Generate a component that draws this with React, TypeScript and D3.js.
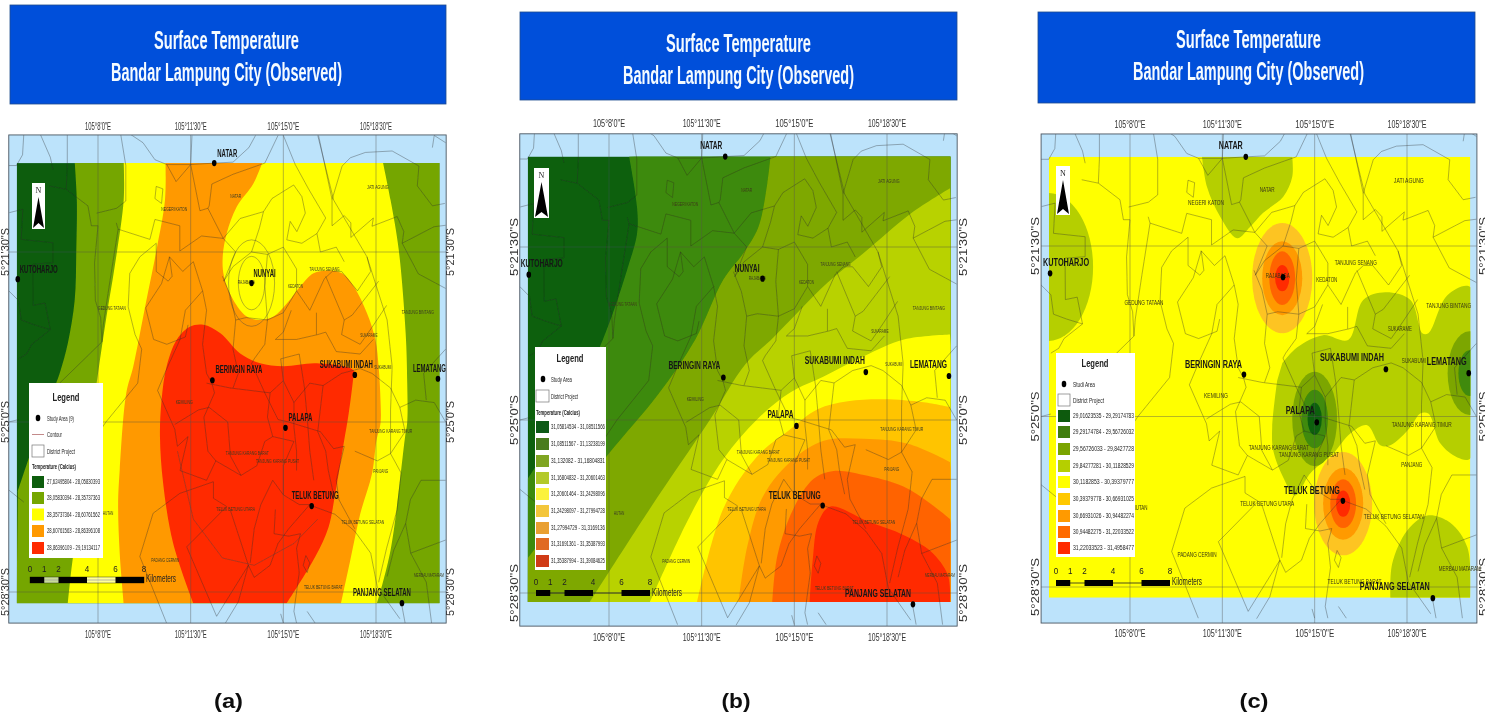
import React from "react";
import * as d3 from "d3";

type Pt = [number, number];

// All geography is in arc-minutes: [minutes east of 105°, minutes south of 5°].
const lonTicks = [8, 11.5, 15, 18.5];
const lonTickLabels = ["105°8'0\"E", "105°11'30\"E", "105°15'0\"E", "105°18'30\"E"];
const latTicks = [21.5, 25, 28.5];
const latTickLabels = ["5°21'30\"S", "5°25'0\"S", "5°28'30\"S"];
const scaleKm = [0, 1, 2, 4, 6, 8];

const cities: [string, number, number][] = [
  ["NATAR", 12.39, 19.67],
  ["KUTOHARJO", 4.97, 22.06],
  ["NUNYAI", 13.8, 22.14],
  ["BERINGIN RAYA", 12.32, 24.14],
  ["SUKABUMI INDAH", 17.7, 24.03],
  ["LEMATANG", 20.84, 24.11],
  ["PALAPA", 15.08, 25.12],
  ["TELUK BETUNG", 16.07, 26.73],
  ["PANJANG SELATAN", 19.48, 28.73],
];

const districtNames: [string, number, number][] = [
  ["NEGERI KATON", 10.88, 20.62],
  ["NATAR", 13.2, 20.35],
  ["JATI AGUNG", 18.57, 20.17],
  ["RAJABASA", 13.6, 22.12],
  ["KEDATON", 15.46, 22.2],
  ["TANJUNG SENANG", 16.56, 21.84],
  ["TANJUNG BINTANG", 20.08, 22.73],
  ["SUKARAME", 18.23, 23.2],
  ["SUKABUMI", 18.76, 23.87],
  ["GEDUNG TATAAN", 8.53, 22.66],
  ["KEMILING", 11.26, 24.58],
  ["TANJUNG KARANG TIMUR", 19.06, 25.18],
  ["TANJUNG KARANG BARAT", 13.64, 25.64],
  ["TANJUNG KARANG PUSAT", 14.78, 25.8],
  ["PANJANG", 18.68, 26.0],
  ["TELUK BETUNG UTARA", 13.2, 26.8],
  ["TELUK BETUNG SELATAN", 18.0, 27.06],
  ["HUTAN", 8.38, 26.88],
  ["PADANG CERMIN", 10.54, 27.85],
  ["TELUK BETUNG BARAT", 16.51, 28.4],
  ["MERBAU MATARAM", 20.5, 28.14],
];

const districtLines: Pt[][] = [
  [[4.63,19.72],[4.92,19.72],[5.15,19.5],[5.2,19.05],[5.8,19.05],[6.2,19.55],[6.3,19.8]],
  [[6.84,19.05],[6.84,19.72],[6.8,20.21],[7.62,20.55],[7.75,20.96],[8.0,20.96],[7.87,21.72],[7.9,22.5],[8.1,22.85],[8.15,23.35],[6.55,24.2],[6.0,24.55],[5.6,24.9]],
  [[6.17,20.14],[6.8,20.21]],
  [[8.85,19.05],[9.05,19.72],[9.05,20.45],[8.7,20.6],[7.95,20.7]],
  [[4.65,20.69],[5.16,20.62],[5.1,21.24],[6.3,21.31],[6.3,21.72],[5.54,21.75],[5.55,22.6],[6.0,22.55],[6.2,23.1],[5.5,23.4],[5.3,23.6],[5.0,23.7]],
  [[4.63,22.3],[5.0,22.5],[5.1,22.9],[5.6,23.0],[6.2,23.1]],
  [[9.15,19.05],[9.7,19.25],[10.15,19.6],[10.6,19.7],[11.5,19.7],[12.39,19.67],[13.1,19.65],[13.7,19.35],[13.95,19.1]],
  [[10.6,19.7],[10.95,20.05],[11.5,19.7],[11.55,19.1]],
  [[11.5,19.7],[11.85,20.65],[12.15,20.6],[12.73,21.22],[13.2,21.5],[12.75,22.1]],
  [[12.3,20.1],[13.1,19.9],[14.3,19.67],[14.8,19.1]],
  [[12.3,20.1],[12.2,20.55],[12.15,20.6]],
  [[10.2,20.15],[10.45,20.2],[10.4,20.5],[10.15,20.4],[10.2,20.15]],
  [[15.0,19.1],[15.45,19.7],[15.95,20.2],[16.6,20.8],[16.27,21.12]],
  [[8.69,20.9],[8.76,21.03],[9.96,21.24],[10.15,20.83],[11.09,20.96],[11.09,21.48],[11.91,21.17],[12.73,21.22]],
  [[8.76,21.03],[8.45,22.1],[8.2,23.0],[8.15,23.35]],
  [[9.14,22.63],[9.2,21.94],[9.58,21.6],[10.2,21.32]],
  [[9.14,22.63],[9.4,23.2],[9.65,23.5],[9.5,24.2],[8.9,24.6],[8.3,25.0],[7.8,25.4]],
  [[10.2,21.32],[10.2,21.9],[10.65,22.1],[10.8,22.0],[10.7,21.6],[11.2,21.9],[11.6,21.7],[11.95,22.3],[12.1,22.7]],
  [[10.7,21.6],[10.4,22.15],[9.8,22.65],[10.1,23.3],[10.6,23.4],[11.3,23.25],[11.4,23.0]],
  [[11.95,22.3],[11.3,22.7],[11.1,23.3],[10.6,23.9],[10.25,24.35],[10.9,25.15],[11.0,25.5]],
  [[12.1,22.7],[11.95,23.4],[12.1,24.0],[12.3,24.2],[12.4,24.4],[12.0,24.9],[12.15,25.6],[12.45,25.8]],
  [[12.7,22.0],[13.0,22.4],[13.2,22.9],[13.1,23.5],[13.3,24.0],[13.1,24.3]],
  [[12.75,22.1],[13.1,21.8],[13.8,21.5],[14.4,21.55],[15.0,21.4],[15.5,21.85],[15.5,22.3],[15.0,22.75],[14.4,22.9],[13.6,22.85],[13.2,22.9]],
  [[13.8,21.5],[14.1,21.0],[14.25,20.67]],
  [[12.73,21.22],[13.37,20.81],[14.25,20.67],[14.57,20.4],[15.39,20.12],[15.7,20.36],[15.83,20.7],[15.51,21.08],[15.26,20.87],[15.13,21.25],[15.7,21.32],[16.27,21.12],[16.4,21.5],[17.0,21.4],[17.3,21.7]],
  [[14.4,21.55],[14.3,22.2],[14.4,22.9],[14.3,23.4],[13.9,23.7],[13.8,23.8],[14.3,24.4],[14.8,24.95],[15.2,25.0],[15.8,25.1],[16.4,25.2],[16.9,25.55],[17.3,25.5]],
  [[16.33,19.1],[16.84,20.42],[16.84,20.96],[17.3,20.75],[17.55,20.9],[17.55,21.2],[18.4,20.8],[18.35,20.97],[19.3,20.77],[19.55,21.08],[19.49,21.32],[20.69,20.98],[21.13,20.95]],
  [[16.84,20.42],[17.22,19.73],[17.53,19.56],[18.1,19.45],[19.11,19.42],[20.12,19.73],[20.06,20.14],[20.63,20.55],[21.1,20.5]],
  [[20.63,19.35],[20.7,19.1],[21.13,19.25]],
  [[19.49,21.32],[20.1,21.95],[21.13,22.25]],
  [[16.3,19.1],[16.9,20.43],[18.16,21.6],[18.92,22.9],[19.11,23.86],[19.05,24.75],[19.05,25.65]],
  [[15.5,22.3],[16.0,22.7],[16.55,22.05],[16.85,21.9],[17.2,21.9],[17.8,22.3],[18.3,21.9],[18.16,21.6]],
  [[16.6,22.0],[17.3,22.9],[17.6,22.8],[18.6,22.1]],
  [[17.3,22.9],[17.2,23.2],[17.9,23.4],[18.35,23.05],[18.9,22.6]],
  [[15.3,22.7],[15.0,23.15],[14.7,23.3],[15.5,23.3],[16.3,23.2],[16.6,23.15],[17.0,23.55],[17.9,23.6],[18.4,23.3]],
  [[16.25,22.75],[16.25,23.2]],
  [[12.1,24.2],[13.0,24.3],[14.5,24.4],[15.0,24.15],[15.4,24.6],[16.0,24.2],[16.5,24.25],[17.2,24.0],[17.9,23.9],[18.35,24.0],[19.05,24.3],[19.4,24.7],[20.0,24.55],[20.7,24.6],[21.13,25.0]],
  [[15.4,24.6],[15.4,25.1],[15.5,25.6],[15.5,26.0]],
  [[15.8,24.3],[15.9,24.9],[16.0,25.6],[16.15,26.2]],
  [[16.5,24.25],[16.3,25.2],[16.6,25.6],[16.7,26.0],[16.9,26.5]],
  [[14.5,24.4],[14.4,24.9],[14.6,25.3],[15.4,25.4],[15.0,25.9],[15.0,26.5]],
  [[15.0,24.15],[14.9,23.7],[15.6,23.6],[15.8,24.3]],
  [[10.9,25.05],[11.8,24.75],[12.2,24.7],[12.9,25.0],[13.0,25.7],[13.4,26.1]],
  [[11.1,26.0],[12.1,26.2],[12.45,25.8],[13.4,26.1],[14.0,25.9],[14.3,25.4],[14.6,25.3]],
  [[11.1,26.0],[11.4,25.3],[11.0,25.5]],
  [[12.36,26.23],[11.09,26.47],[10.08,26.88],[9.58,27.77],[10.59,29.14]],
  [[12.36,26.23],[12.36,26.57],[12.86,26.74],[11.35,27.57],[12.48,29.0],[13.68,27.95],[12.99,26.8]],
  [[13.68,27.95],[13.3,28.7],[12.8,29.15]],
  [[13.68,27.95],[13.9,28.2],[14.5,27.95],[14.8,27.5],[15.2,27.2],[16.0,26.7],[16.2,26.75],[16.95,26.9],[17.7,27.25],[18.3,27.7],[18.55,28.4],[19.4,29.05]],
  [[14.15,26.7],[13.9,27.2],[13.75,27.9]],
  [[14.15,26.7],[14.6,26.2],[15.0,26.5],[15.6,26.7],[16.0,26.7]],
  [[14.7,26.8],[14.65,27.3],[15.2,27.35],[15.65,27.3],[15.5,27.6],[15.6,28.1],[15.4,28.9],[15.5,29.14]],
  [[15.85,27.75],[16.0,27.9],[15.9,28.1],[15.75,27.95],[15.85,27.75]],
  [[17.3,25.5],[17.0,26.2],[17.1,26.6],[17.7,27.2]],
  [[17.7,25.6],[18.55,25.8],[19.05,25.65],[19.45,26.05],[19.3,26.8],[18.9,27.6],[18.6,28.3]],
  [[18.92,28.18],[19.17,27.64],[19.62,27.09],[19.81,27.7],[21.13,27.43]],
  [[19.62,27.09],[19.8,26.6],[20.2,26.2],[21.13,26.2]],
  [[19.81,27.7],[20.4,28.3],[20.6,29.14]],
  [[19.45,28.7],[19.6,29.14]],
  [[19.4,24.7],[19.6,25.2],[19.05,25.65]],
  [[20.4,24.55],[20.3,24.0],[21.13,23.5]],
  [[4.63,26.4],[5.2,26.65]],
  [[4.63,25.0],[5.0,24.95]],
  [[14.9,28.95],[15.0,29.14]],
  [[15.9,28.9],[16.2,29.14]],
];

// Panel (a) band boundaries
const aGreenEdge: Pt[] = [[7.12,19.65],[7.2,20.43],[7.18,21.46],[7.12,22.49],[6.86,23.38],[6.55,24.0],[5.92,24.9],[4.97,26.43]];
const aYellowEdge: Pt[] = [[8.97,19.65],[8.97,20.43],[8.63,21.8],[8.32,22.83],[8,24],[7.7,25.2],[7.4,26.6],[7.03,27.88],[6.86,28.73]];
const aOrangeEdge: Pt[] = [[10.55,19.65],[10.53,20.43],[10.21,21.46],[9.83,22.49],[9.33,23.86],[9.07,24.4],[8.82,25.99],[8.76,26.7],[8.82,27.7],[8.97,28.73]];
const aOrangeRight: Pt[] = [[14.21,19.65],[13.87,20.09],[13.24,20.57],[12.86,21.12],[12.71,21.6],[12.76,22.01],[13.11,22.49],[13.62,22.83],[14.12,22.9],[14.63,22.83],[15.13,22.56],[15.64,22.21],[16.14,21.94],[16.65,21.88],[17.22,21.94],[17.66,22.21],[18.16,22.76],[18.48,23.31],[18.6,23.86],[18.67,24.55],[18.67,25.03],[18.52,25.37],[18.35,26.06],[17.91,26.88],[17.53,27.84],[17.18,28.73]];
const aRedEdge: Pt[] = [[11.6,28.73],[10.84,27.5],[10.46,26.26],[10.34,25.3],[10.4,24.55],[10.59,23.86],[10.97,23.31],[11.47,23.04],[11.98,23.0],[12.61,23.17],[13.37,23.59],[14.12,23.79],[15.0,23.85],[16.27,23.79],[17.66,23.94],[17.63,24.14],[17.47,24.82],[17.28,25.44],[16.96,26.47],[16.71,27.16],[16.21,27.77],[15.13,28.73]];
const aGreenRight: Pt[] = [[18.76,19.65],[19.05,20.43],[19.36,21.46],[19.62,23.17],[19.68,24.2],[19.68,25],[19.6,25.3],[19.05,27.64],[18.54,28.73]];
const aBandColors = ["#0b5d0c", "#75a600", "#ffff00", "#ff9900", "#ff2a00"];
const aContourLons = [0.87, 0.5];
const aContourLats = [0.89, 0.55];
const aContourArc: Pt[] = [[11.0,25.6],[11.6,27.0],[12.7,27.8],[13.9,27.95],[15.4,27.5],[16.3,27.0]];

// Panel (b) band boundaries
const bEdges: Pt[][] = [
  [[8.76,19.67],[9.06,20.7],[9.06,21.22],[8.72,21.9],[7.77,23.37],[6.33,24.98],[4.93,26.19]],
  [[14.1,19.67],[13.98,20.21],[13.64,21.1],[13.08,21.62],[12.32,22.16],[11.26,23.37],[9.86,24.48],[7.92,25.73],[4.93,27.8]],
  [[20.88,20.31],[19.4,20.82],[17.62,21.62],[16.26,22.22],[14.21,23.33],[13.15,23.87],[11.83,24.98],[9.55,26.79],[7.28,28.68]],
  [[20.88,23.27],[19.14,23.37],[17.62,23.71],[16.11,24.12],[14.86,24.44],[13.61,24.98],[12.32,25.79],[11.07,26.93],[9.55,28.68]],
  [[20.88,24.74],[19.89,24.64],[18.38,24.58],[17.02,24.62],[15.88,24.78],[14.86,25.18],[13.61,25.73],[12.32,26.79],[11.33,28.68]],
  [[20.88,25.85],[19.29,25.48],[17.62,25.38],[16.11,25.42],[14.97,25.79],[13.83,26.53],[13.23,27.54],[12.89,28.68]],
  [[20.88,27.0],[19.29,26.39],[17.77,26.13],[16.48,26.03],[15.73,26.19],[14.97,26.79],[14.36,27.74],[14.17,28.68]],
  [[20.88,28.68],[20.8,28.14],[20.16,27.66],[19.14,27.33],[17.77,27.05],[16.37,26.75],[15.92,27.05],[15.69,27.86],[15.58,28.68]],
];
const bBandColors = ["#0b600c", "#3e8a08", "#7ea800", "#b8d200", "#ffff00", "#ffc400", "#ff9a00", "#ff6400", "#ff2a00"];

// Panel (c) blobs and hot/cold spots
const cNatarBlob: Pt[] = [[10.73,19.67],[10.92,20.29],[11.42,20.9],[12.06,21.34],[12.55,21.11],[13.05,20.82],[13.81,20.49],[14.15,20.08],[14.15,19.67]];
const cMerbauBlob: Pt[] = [[17.87,28.72],[17.94,28.02],[18.51,27.34],[19.27,27.03],[20.14,27.18],[20.79,27.69],[20.9,28.72]];
const cEastBlob: Pt[] = [[13.77,23.91],[14.34,23.58],[15.32,23.33],[16.27,23.43],[16.84,22.61],[17.68,22.45],[18.63,22.61],[19.08,23.29],[19.31,23.29],[20.03,22.51],[20.9,22.34],[20.9,25.86],[20.41,25.84],[19.76,25.55],[19.31,24.94],[19.0,24.94],[18.63,25.22],[17.87,25.59],[17.49,25.59],[16.99,25.18],[16.35,25.35],[15.7,25.76],[14.83,26.17],[14.26,26.62],[13.81,26.25],[13.43,25.7],[13.39,25.22],[13.58,24.26]];
const cSpots: { lon: number; lat: number; rLon: number[]; rLat: number[]; colors: string[] }[] = [
  { lon: 4.89, lat: 21.93, rLon: [1.71], rLat: [1.52], colors: ["#b5cf00"] },
  { lon: 13.77, lat: 22.16, rLon: [1.14, 0.76, 0.49, 0.27], rLat: [1.13, 0.76, 0.55, 0.27], colors: ["#fdc424", "#ff9a00", "#ff6400", "#ff2a00"] },
  { lon: 15.0, lat: 25.05, rLon: [0.85, 0.5, 0.27], rLat: [0.97, 0.6, 0.33], colors: ["#7ba600", "#3f8a08", "#0b600c"] },
  { lon: 20.87, lat: 24.11, rLon: [0.83, 0.42], rLat: [0.86, 0.47], colors: ["#7ba600", "#3f8a08"] },
  { lon: 16.08, lat: 26.79, rLon: [1.1, 0.76, 0.49, 0.27], rLat: [1.06, 0.74, 0.5, 0.27], colors: ["#fdc424", "#ff9a00", "#ff6400", "#ff2a00"] },
];
const cBaseColor = "#ffff00";
const cLimeColor = "#b5cf00";

const aLegendRanges = ["27,62495804 - 28,05830393", "28,05830394 - 28,35737363", "28,35737364 - 28,60761562", "28,60761563 - 28,86396108", "28,86396109 - 29,19134117"];
const bLegendRanges = ["31,05814534 - 31,08511566", "31,08511567 - 31,13238199", "31,132082 - 31,16804831", "31,16804832 - 31,20601463", "31,20601464 - 31,24298096", "31,24298097 - 31,27994728", "31,27994729 - 31,3169136", "31,31691361 - 31,35387993", "31,35387994 - 31,39084625"];
const cLegendRanges = ["29,01623535 - 29,29174783", "29,29174784 - 29,56726032", "29,56726033 - 29,8427728", "29,84277281 - 30,11828529", "30,1182853 - 30,39379777", "30,39379778 - 30,66931025", "30,66931026 - 30,94482274", "30,94482275 - 31,22033522", "31,22033523 - 31,4958477"];
const bLegendColors = ["#0e5a18", "#4a7c1c", "#7fa522", "#b3c92a", "#fbf23a", "#f3c63a", "#e9a030", "#e06a20", "#d03a18"];
const cLegendColors = ["#0a5a0a", "#3f7d0a", "#7aa400", "#b5cf00", "#ffff00", "#ffc800", "#ff9a00", "#ff6a00", "#ff2a00"];

const FONT = "'Liberation Sans', Arial, sans-serif";

function T(p: { x: number; y: number; w?: number; size?: number; bold?: boolean; fill?: string; anchor?: string; rotate?: boolean; children: string }) {
  const { x, y, w, size = 7, bold, fill = "#222", anchor = "start", rotate, children } = p;
  return (
    <text
      x={rotate ? 0 : x}
      y={rotate ? 0 : y}
      transform={rotate ? `translate(${x},${y}) rotate(-90)` : undefined}
      fontFamily={FONT}
      fontSize={size}
      fontWeight={bold ? 700 : 400}
      fill={fill}
      textAnchor={anchor}
      textLength={w}
      lengthAdjust={w ? "spacingAndGlyphs" : undefined}
    >
      {children}
    </text>
  );
}

interface PanelCfg {
  id: string;
  letter: string;
  letterX: number;
  header: [number, number, number, number];
  titleCx: number;
  titleY: [number, number];
  x8: number; x185: number; y215: number; y285: number;
  frameLat: [number, number];
  rasterLat: [number, number];
  tickTop: number; tickBottom: number; leftX: number; rightX: number;
  lonW: [number, number]; latW: [number, number];
  dx: number[]; dy: number[]; lw: number[];
  skip?: string;
  nameSize: number; nameK: number;
  north: [number, number, number, number];
  bar: [number, number, number, number];
  barLabelY: number; kmX: number; kmY: number; kmW: number;
  legend: {
    box: [number, number, number, number];
    titleX: number; titleY: number;
    study: string; studyX: number; studyY: number; studyW: number;
    contourY?: number;
    districtY: number; districtW: number;
    heading?: number;
    textX: number; swX: number; swW: number; centers: number[]; ranges: string[]; colors: string[]; rangeW: number;
    dotX: number;
  };
  raster: (px: (p: Pt) => [number, number], x: d3.ScaleLinear<number, number>, y: d3.ScaleLinear<number, number>) => React.ReactNode;
}

const curve = d3.line<[number, number]>().curve(d3.curveCatmullRom.alpha(0.5));

function band(parts: [number, number][][]): string {
  return parts
    .map((p, i) => {
      const s = (p.length === 1 ? `M${p[0][0]},${p[0][1]}` : curve(p)) as string;
      return i === 0 ? s : "L" + s.slice(1);
    })
    .join("") + "Z";
}

const far: Pt[] = [[22, 30]];

const panels: PanelCfg[] = [
  {
    id: "a", letter: "(a)", letterX: 228.5,
    header: [10, 5, 436, 99], titleCx: 226.5, titleY: [49, 81],
    x8: 98, x185: 376, y215: 252, y285: 592,
    frameLat: [19.09, 29.14], rasterLat: [19.67, 28.73],
    tickTop: 130, tickBottom: 638, leftX: 9, rightX: 454,
    lonW: [26, 32], latW: [48, 42],
    dx: [3, 2, 2, 3, -35, -25, 3, -20, -49], dy: [-6, -6, -6, -7, -7, -7, -7, -7, -7], lw: [20, 38, 22, 47, 53, 33, 24, 47, 58],
    nameSize: 6, nameK: 2.15,
    north: [32, 183, 13, 46],
    bar: [30, 144, 577, 6], barLabelY: 572, kmX: 146, kmY: 582, kmW: 30,
    legend: {
      box: [29, 383, 74, 175], titleX: 66, titleY: 401,
      study: "Study Area (9)", studyX: 47, studyY: 421, studyW: 27, contourY: 437,
      districtY: 454, districtW: 28, heading: 469,
      textX: 47, swX: 32, swW: 12, centers: [482, 498, 514.5, 531, 548], ranges: aLegendRanges, colors: aBandColors, rangeW: 53,
      dotX: 38,
    },
    raster: (px) => (
      <>
        <path d={band([aGreenEdge.map(px), [[4.9, 30], [22, 30], [22, 19]].map((d) => px(d as Pt))])} fill={aBandColors[1]} />
        <path d={band([aYellowEdge.map(px), aGreenRight.slice().reverse().map(px)])} fill={aBandColors[2]} />
        <path d={band([aOrangeEdge.map(px), aOrangeRight.slice().reverse().map(px)])} fill={aBandColors[3]} />
        <path d={band([aRedEdge.map(px)])} fill={aBandColors[4]} />
      </>
    ),
  },
  {
    id: "b", letter: "(b)", letterX: 736,
    header: [520, 12, 437, 88], titleCx: 738.5, titleY: [52, 84],
    x8: 609, x185: 887, y215: 247, y285: 593,
    frameLat: [19.21, 29.17], rasterLat: [19.67, 28.68],
    tickTop: 127, tickBottom: 641, leftX: 518, rightX: 967,
    lonW: [32, 38], latW: [58, 50],
    dx: [-25, -8, -28, -55, -61, -39, -29, -54, -68], dy: [-8, -8, -7, -8, -8, -8, -8, -7, -7], lw: [22, 42, 25, 52, 60, 37, 26, 52, 66],
    nameSize: 6, nameK: 2.15,
    north: [534, 168, 15, 50],
    bar: [536, 650, 590, 6], barLabelY: 585, kmX: 652, kmY: 596, kmW: 30,
    legend: {
      box: [535, 347, 71, 223], titleX: 570, titleY: 362,
      study: "Study Area", studyX: 551, studyY: 382, studyW: 21,
      districtY: 399, districtW: 27, heading: 415,
      textX: 551, swX: 536, swW: 13, centers: [427, 444, 461, 478, 494, 511, 528, 544, 561], ranges: bLegendRanges, colors: bLegendColors, rangeW: 54,
      dotX: 543,
    },
    raster: (px) => (
      <>
        {bEdges.map((edge, i) => {
          const closers: Pt[] = i < 2 ? [[4.9, 30], [22, 30], [22, 19]] : far;
          return <path key={i} d={band([edge.map(px), closers.map((d) => px(d))])} fill={bBandColors[i + 1]} />;
        })}
      </>
    ),
  },
  {
    id: "c", letter: "(c)", letterX: 1254,
    header: [1038, 12, 437, 91], titleCx: 1248.5, titleY: [48, 80],
    x8: 1130, x185: 1407, y215: 246, y285: 587,
    frameLat: [19.2, 29.24], rasterLat: [19.67, 28.72],
    tickTop: 128, tickBottom: 637, leftX: 1039, rightX: 1487,
    lonW: [31, 39], latW: [58, 50],
    dx: [-27, -7, 0, -59, -66, -42, -31, -59, -73], dy: [-8, -7, 0, -7, -8, -8, -8, -7, -8], lw: [24, 46, 0, 57, 64, 40, 29, 56, 70],
    skip: "NUNYAI",
    nameSize: 7.5, nameK: 3,
    north: [1056, 166, 14, 49],
    bar: [1056, 1170, 580, 6], barLabelY: 574, kmX: 1172, kmY: 585, kmW: 30,
    legend: {
      box: [1056, 353, 79, 204], titleX: 1095, titleY: 367,
      study: "Studi Area", studyX: 1073, studyY: 387, studyW: 22,
      districtY: 403, districtW: 31,
      textX: 1073, swX: 1058, swW: 12, centers: [416, 432, 449, 466, 482, 499, 516, 532, 548], ranges: cLegendRanges, colors: cLegendColors, rangeW: 61,
      dotX: 1064,
    },
    raster: (px, x, y) => {
      const spot = (s: (typeof cSpots)[number], k: number) => (
        <>
          {s.rLon.map((r, i) => (
            <ellipse
              key={k + "-" + i}
              cx={x(s.lon)} cy={y(s.lat)}
              rx={x(s.lon + r) - x(s.lon)} ry={y(s.lat + s.rLat[i]) - y(s.lat)}
              fill={s.colors[i]}
            />
          ))}
        </>
      );
      return (
        <>
          <path d={band([cNatarBlob.map(px)])} fill={cLimeColor} />
          <path d={band([cMerbauBlob.map(px)])} fill={cLimeColor} />
          <path d={band([cEastBlob.map(px), [cEastBlob[0]].map(px)])} fill={cLimeColor} />
          {cSpots.map((s, k) => <g key={k}>{spot(s, k)}</g>)}
        </>
      );
    },
  },
];

function Panel({ cfg }: { cfg: PanelCfg }) {
  const x = d3.scaleLinear().domain([8, 18.5]).range([cfg.x8, cfg.x185]);
  const y = d3.scaleLinear().domain([21.5, 28.5]).range([cfg.y215, cfg.y285]);
  const px = (p: Pt): [number, number] => [x(p[0]), y(p[1])];
  const line = d3.line<Pt>().x((d) => x(d[0])).y((d) => y(d[1]));
  const fx0 = x(4.63), fx1 = x(21.15), fy0 = y(cfg.frameLat[0]), fy1 = y(cfg.frameLat[1]);
  const rx0 = x(4.93), rx1 = x(20.9), ry0 = y(cfg.rasterLat[0]), ry1 = y(cfg.rasterLat[1]);
  const L = cfg.legend;
  const [bx0, bx1, by, bh] = cfg.bar;
  const km = d3.scaleLinear().domain([0, 8]).range([bx0, bx1]);
  const [nx, ny, nw, nh] = cfg.north;
  const base = cfg.id === "a" ? aBandColors[0] : cfg.id === "b" ? bBandColors[0] : cBaseColor;
  return (
    <g>
      <rect x={cfg.header[0]} y={cfg.header[1]} width={cfg.header[2]} height={cfg.header[3]} fill="#0650da" stroke="#1b4a8c" strokeWidth={0.8} />
      <T x={cfg.titleCx} y={cfg.titleY[0]} w={145} size={25} bold fill="#f4fbff" anchor="middle">Surface Temperature</T>
      <T x={cfg.titleCx} y={cfg.titleY[1]} w={231} size={25} bold fill="#f4fbff" anchor="middle">Bandar Lampung City (Observed)</T>

      <clipPath id={`frame-${cfg.id}`}><rect x={fx0} y={fy0} width={fx1 - fx0} height={fy1 - fy0} /></clipPath>
      <clipPath id={`raster-${cfg.id}`}><rect x={rx0} y={ry0} width={rx1 - rx0} height={ry1 - ry0} /></clipPath>
      <rect x={fx0} y={fy0} width={fx1 - fx0} height={fy1 - fy0} fill="#bce3fb" />
      <g clipPath={`url(#raster-${cfg.id})`}>
        <rect x={rx0} y={ry0} width={rx1 - rx0} height={ry1 - ry0} fill={base} />
        {cfg.raster(px, x, y)}
      </g>
      <g clipPath={`url(#frame-${cfg.id})`}>
        {districtLines.map((d, i) => (
          <path key={i} d={line(d) as string} fill="none" stroke="#2b2b2b" strokeOpacity={0.7} strokeWidth={0.5} />
        ))}
        {cfg.id === "a" && (
          <>
            {aContourLons.map((r, i) => (
              <ellipse key={i} cx={x(13.8)} cy={y(22.14)} rx={x(13.8 + r) - x(13.8)} ry={y(22.14 + aContourLats[i]) - y(22.14)} fill="none" stroke="#444" strokeWidth={0.4} />
            ))}
            <path d={line(aContourArc) as string} fill="none" stroke="#444" strokeWidth={0.4} />
          </>
        )}
        {lonTicks.map((t) => (
          <line key={t} x1={x(t)} x2={x(t)} y1={fy0} y2={fy1} stroke="#555" strokeOpacity={0.6} strokeWidth={0.7} />
        ))}
        {latTicks.map((t) => (
          <line key={t} x1={fx0} x2={fx1} y1={y(t)} y2={y(t)} stroke="#555" strokeOpacity={0.6} strokeWidth={0.7} />
        ))}
      </g>
      <rect x={fx0} y={fy0} width={fx1 - fx0} height={fy1 - fy0} fill="none" stroke="#4a5560" strokeWidth={0.9} />

      {lonTicks.map((t, i) => (
        <g key={t}>
          <T x={x(t)} y={cfg.tickTop} w={i === 0 ? cfg.lonW[0] : cfg.lonW[1]} size={10.5} fill="#333" anchor="middle">{lonTickLabels[i]}</T>
          <T x={x(t)} y={cfg.tickBottom} w={i === 0 ? cfg.lonW[0] : cfg.lonW[1]} size={10.5} fill="#333" anchor="middle">{lonTickLabels[i]}</T>
        </g>
      ))}
      {latTicks.map((t, i) => (
        <g key={t}>
          <T x={cfg.leftX} y={y(t)} w={i === 1 ? cfg.latW[1] : cfg.latW[0]} size={10.5} fill="#333" anchor="middle" rotate>{latTickLabels[i]}</T>
          <T x={cfg.rightX} y={y(t)} w={i === 1 ? cfg.latW[1] : cfg.latW[0]} size={10.5} fill="#333" anchor="middle" rotate>{latTickLabels[i]}</T>
        </g>
      ))}

      {districtNames.map(([n, lo, la]) => (
        <T key={n} x={x(lo)} y={y(la) + 2} w={n.length * cfg.nameK} size={cfg.nameSize} fill={cfg.id === "c" ? "#3a3a10" : "#3a3a20"} anchor="middle">{n}</T>
      ))}
      {cities.map(([n, lo, la], i) => (
        <g key={n}>
          <ellipse cx={x(lo)} cy={y(la)} rx={2.3} ry={3.1} fill="#000" />
          {n !== cfg.skip && (
            <T x={x(lo) + cfg.dx[i]} y={y(la) + cfg.dy[i]} w={cfg.lw[i]} size={cfg.id === "a" ? 10.5 : 11} bold fill="#161616">{n}</T>
          )}
        </g>
      ))}

      <rect x={nx} y={ny} width={nw} height={nh} fill="#fff" />
      <text x={nx + nw / 2} y={ny + 10} fontFamily="'Liberation Serif', serif" fontSize={8} textAnchor="middle" fill="#222">N</text>
      <path d={`M${nx + nw / 2},${ny + 14}L${nx + 1},${ny + nh - 1}L${nx + nw / 2},${ny + nh - 6}L${nx + nw - 1},${ny + nh - 1}Z`} fill="#000" />

      <line x1={km(0)} x2={km(8)} y1={by + bh / 2} y2={by + bh / 2} stroke="#222" strokeWidth={0.8} />
      {cfg.id === "a" && <rect x={km(0)} y={by} width={km(8) - km(0)} height={bh} fill="#fff" fillOpacity={0.6} stroke="#111" strokeWidth={0.4} />}
      {scaleKm.slice(0, -1).map((k, i) =>
        i % 2 === 0 || k === 2 ? (
          <rect key={k} x={km(k)} y={by} width={km(scaleKm[i + 1]) - km(k)} height={bh} fill="#000" />
        ) : null
      )}
      {scaleKm.map((k) => (
        <T key={k} x={km(k)} y={cfg.barLabelY} w={4.5} size={9.5} fill="#222" anchor="middle">{String(k)}</T>
      ))}
      <T x={cfg.kmX} y={cfg.kmY} w={cfg.kmW} size={10} fill="#222">Kilometers</T>

      <rect x={L.box[0]} y={L.box[1]} width={L.box[2]} height={L.box[3]} fill="#fff" />
      <T x={L.titleX} y={L.titleY} w={27} size={11.5} bold anchor="middle">Legend</T>
      <ellipse cx={L.dotX} cy={L.studyY - 3} rx={2.3} ry={3.2} fill="#000" />
      <T x={L.studyX} y={L.studyY} w={L.studyW} size={6.5}>{L.study}</T>
      {L.contourY !== undefined && (
        <>
          <line x1={L.swX} x2={L.swX + L.swW} y1={L.contourY - 2.5} y2={L.contourY - 2.5} stroke="#9a3a3a" strokeWidth={0.6} />
          <T x={L.studyX} y={L.contourY} w={15} size={6.5}>Contour</T>
        </>
      )}
      <rect x={L.swX} y={L.districtY - 9} width={L.swW} height={12} fill="#fff" stroke="#777" strokeWidth={0.7} />
      <T x={L.studyX} y={L.districtY} w={L.districtW} size={6.5}>District Project</T>
      {L.heading !== undefined && <T x={L.swX} y={L.heading} w={44} size={6.5} bold>Temperature (Calcius)</T>}
      {L.ranges.map((r, i) => (
        <g key={r}>
          <rect x={L.swX} y={L.centers[i] - 6} width={L.swW} height={12} fill={L.colors[i]} />
          <T x={L.textX} y={L.centers[i] + 2} w={L.rangeW} size={6.5}>{r}</T>
        </g>
      ))}

      <T x={cfg.letterX} y={708} w={29} size={21} bold fill="#111" anchor="middle">{cfg.letter}</T>
    </g>
  );
}

export default function App() {
  return (
    <svg
      width={1485}
      height={718}
      viewBox="0 0 1485 718"
      style={{ position: "absolute", left: 0, top: 0, display: "block", background: "#fff" }}
    >
      <filter id="soft" x="0" y="0" width="100%" height="100%">
        <feGaussianBlur stdDeviation={0.55} />
      </filter>
      <g filter="url(#soft)">
        <rect width={1485} height={718} fill="#fff" />
        {panels.map((p) => <Panel key={p.id} cfg={p} />)}
      </g>
    </svg>
  );
}
